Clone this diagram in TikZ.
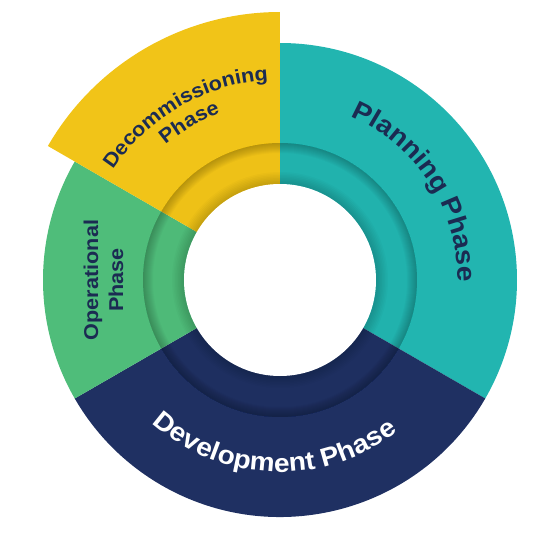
\documentclass[tikz,border=0pt]{standalone}
\usepackage{fontspec}
\setmainfont{Liberation Sans}
\newfontfamily\labfont[FakeStretch=1.08]{Liberation Sans}
\usetikzlibrary{decorations.text}
\definecolor{cteal}{HTML}{22B5B0}
\definecolor{cnavy}{HTML}{1F3062}
\definecolor{cgreen}{HTML}{4FBD7A}
\definecolor{cyellow}{HTML}{F1C418}
\definecolor{ctext}{HTML}{1B2B52}
\newcommand\bigtxt{\labfont\fontsize{26}{30}\selectfont\bfseries}
\newcommand\midtxt{\labfont\fontsize{20}{24}\selectfont\bfseries}
\tikzset{
  arclabel/.style={decorate, decoration={text along path, text align=center, text color=#1}},
  straightlabel/.style={rotate=90, text=ctext, font=\midtxt, inner sep=0pt}
}
\begin{document}
\begin{tikzpicture}[x=1pt,y=1pt]
\useasboundingbox (-280pt,-280pt) rectangle (280pt,280pt);
% sectors
\fill[cteal] (0,0) -- (90:237pt) arc (90:-30:237pt) -- cycle;
\fill[cnavy] (0,0) -- (-30:237pt) arc (-30:-150:237pt) -- cycle;
\fill[cgreen] (0,0) -- (210:237pt) arc (210:150:237pt) -- cycle;
\fill[cyellow] (0,0) -- (150:268pt) arc (150:90:268pt) -- cycle;
% recessed band
\fill[black, opacity=0.012, even odd rule] (0,0) circle (137pt) (0,0) circle (96pt);
\foreach \k in {1,...,10} {
  \pgfmathsetmacro\rr{137-\k*1.0}
  \fill[black, opacity=0.022, even odd rule] (0,0) circle (137pt) (0,0) circle (\rr pt);
}
\foreach \k in {1,...,8} {
  \pgfmathsetmacro\rr{96+\k*1.5}
  \fill[black, opacity=0.02, even odd rule] (0,0) circle (\rr pt) (0,0) circle (96pt);
}
\fill[white] (0,0) circle (96pt);
% labels
\path[arclabel=ctext, decoration={text={|\bigtxt|Planning Phase}}] (123:178pt) arc (123:-57:178pt);
\path[arclabel=white, decoration={text={|\bigtxt|Development Phase}}] (178:192pt) arc (178:358:192pt);
\path[arclabel=ctext, decoration={text={|\midtxt|Decommissioning}}] (210:200pt) arc (210:30:200pt);
\path[arclabel=ctext, decoration={text={|\midtxt|Phase}}] (210:177pt) arc (210:30:177pt);
\node[straightlabel] (op1) at (-187pt,0) {Operational};
\node[straightlabel] (op2) at (-164pt,0) {Phase};
\end{tikzpicture}
\end{document}
